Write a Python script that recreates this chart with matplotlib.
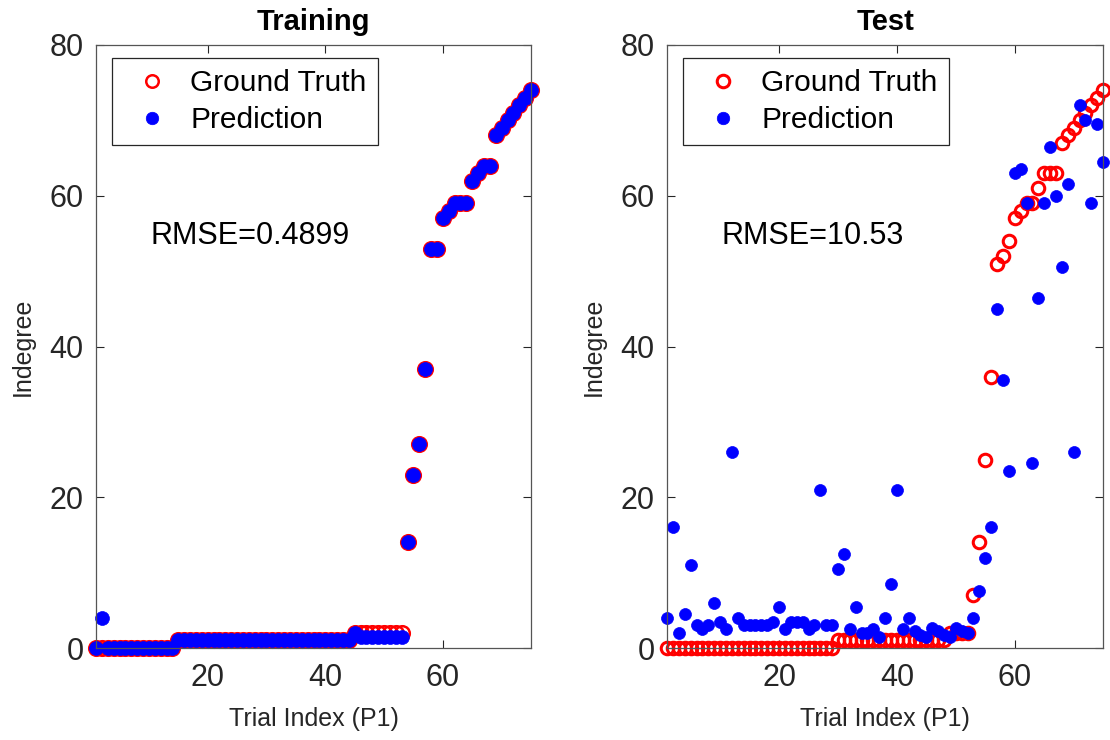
import numpy as np
import matplotlib
matplotlib.use("Agg")
import matplotlib.pyplot as plt

plt.rcParams['font.family'] = ['Liberation Sans', 'DejaVu Sans']

# =========================
# data
# =========================
trial_idx = list(range(1, 76))

train_truth = [0, 0, 0, 0, 0, 0, 0, 0, 0, 0, 0, 0, 0, 0,
               1, 1, 1, 1, 1, 1, 1, 1, 1, 1, 1, 1, 1, 1, 1,
               1, 1, 1, 1, 1, 1, 1, 1, 1, 1, 1, 1, 1, 1, 1,
               2, 2, 2, 2, 2, 2, 2, 2, 2,
               14, 23, 27, 37, 53, 53, 57, 58, 59, 59, 59,
               62, 63, 64, 64, 68, 69, 70, 71, 72, 73, 74]
train_pred = [0, 4, 0, 0, 0, 0, 0, 0, 0, 0, 0, 0, 0, 0,
              1, 1, 1, 1, 1, 1, 1, 1, 1, 1, 1, 1, 1, 1, 1,
              1, 1, 1, 1, 1, 1, 1, 1, 1, 1, 1, 1, 1, 1, 1,
              2, 1.5, 1.5, 1.5, 1.5, 1.5, 1.5, 1.5, 1.5,
              14, 23, 27, 37, 53, 53, 57, 58, 59, 59, 59,
              62, 63, 64, 64, 68, 69, 70, 71, 72, 73, 74]

test_truth = [0, 0, 0, 0, 0, 0, 0, 0, 0, 0, 0, 0, 0, 0, 0,
              0, 0, 0, 0, 0, 0, 0, 0, 0, 0, 0, 0, 0, 0,
              1, 1, 1, 1, 1, 1, 1, 1, 1, 1, 1, 1, 1, 1, 1, 1, 1, 1, 1,
              2, 2, 2, 2,
              7, 14, 25, 36, 51, 52, 54, 57, 58, 59, 59, 61,
              63, 63, 63, 67, 68, 69, 70, 71, 72, 73, 74]
test_pred = [4, 16, 2, 4.5, 11, 3, 2.5, 3, 6, 3.5,
             2.5, 26, 4, 3, 3, 3, 3, 3, 3.5, 5.5,
             2.5, 3.5, 3.5, 3.5, 2.5, 3, 21, 3, 3, 10.5,
             12.5, 2.5, 5.5, 2, 2, 2.5, 1.5, 4, 8.5, 21,
             2.5, 4, 2.2, 1.7, 1.5, 2.7, 2.2, 1.7, 1.4, 2.7,
             2.2, 2, 4, 7.5, 12, 16, 45, 35.5, 23.5, 63,
             63.5, 59, 24.5, 46.5, 59, 66.5, 60, 50.5, 61.5, 26,
             72, 70, 59, 69.5, 64.5]

titles = ["Training", "Test"]
rmse_text = ["RMSE=0.4899", "RMSE=10.53"]

# marker sizes per panel (training dots look a bit larger)
gt_ms = [10.5, 9]
gt_mew = [1.8, 2.2]
pr_ms = [10, 8.6]

# =========================
# figure
# =========================
fig = plt.figure(figsize=(11.1, 7.4), dpi=100)
ax_l = fig.add_axes([0.0865, 0.1243, 0.3919, 0.8149])
ax_r = fig.add_axes([0.601, 0.1243, 0.3928, 0.8149])

axis_col = "#262626"

for i, (ax, gt, pr, ttl, txt) in enumerate(zip([ax_l, ax_r],
                                               [train_truth, test_truth],
                                               [train_pred, test_pred],
                                               titles, rmse_text)):
    ax.plot(trial_idx, gt, 'o', ms=gt_ms[i], mfc='none', mec='r',
            mew=gt_mew[i], clip_on=False, label='Ground Truth')
    ax.plot(trial_idx, pr, 'o', ms=pr_ms[i], mfc='b', mec='b', mew=0.5,
            clip_on=False, label='Prediction')

    ax.set_xlim(1, 75)
    ax.set_ylim(0, 80)
    ax.set_xticks([20, 40, 60])
    ax.set_yticks([0, 20, 40, 60, 80])

    ax.tick_params(axis='both', direction='in', length=6, width=0.8,
                   color=axis_col, labelcolor=axis_col, labelsize=22,
                   top=True, right=True)
    ax.tick_params(axis='x', pad=11)
    ax.tick_params(axis='y', pad=9)
    for sp in ax.spines.values():
        sp.set_color("#555555")
        sp.set_linewidth(0.9)

    ax.set_title(ttl, fontsize=21, fontweight='bold', pad=11)
    ax.set_xlabel("Trial Index (P1)", fontsize=18, color=axis_col)
    ax.set_ylabel("Indegree", fontsize=18, color=axis_col)
    ax.xaxis.set_label_coords(0.5, -0.098)
    ax.yaxis.set_label_coords(-0.14, 0.5)

    ax.text(10.2, 54.6, txt, fontsize=22, ha='left', va='center')

    leg = ax.legend(loc='upper left', bbox_to_anchor=(0.037, 0.978),
                    borderaxespad=0, fontsize=21.5, frameon=True,
                    fancybox=False, edgecolor='#262626', framealpha=1,
                    borderpad=0.37, handlelength=1.9, handletextpad=0.35,
                    labelspacing=0.3, numpoints=1)
    leg.get_frame().set_linewidth(0.9)
    # legend markers at the plain test size
    for h in leg.legend_handles:
        h.set_markersize(9)

fig.savefig("out.png", dpi=100)
